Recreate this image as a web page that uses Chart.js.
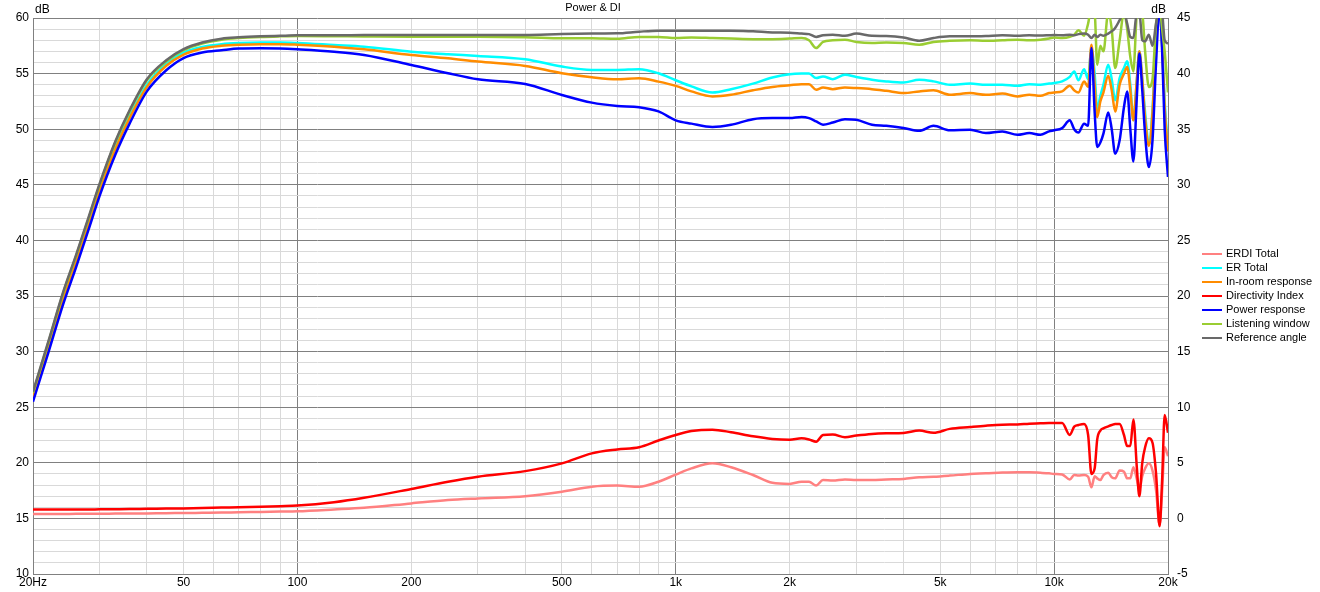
<!DOCTYPE html>
<html>
<head>
<meta charset="utf-8">
<title>Power & DI</title>
<script src="https://cdn.jsdelivr.net/npm/chart.js@4.4.1/dist/chart.umd.min.js"></script>
<style>
  html, body { margin: 0; padding: 0; background: #fff; }
  #wrap { width: 1320px; height: 592px; }
</style>
</head>
<body>
<div id="wrap"><canvas id="powerDi" width="1320" height="592"></canvas></div>
<script>
// Power & DI (REW style)

const chartTitle = "Power & DI";

// frequency points (Hz)
const freqs = [
  20, 22, 24, 26, 28, 30, 33, 36, 40, 45, 50, 56, 63, 70, 80, 90, 100, 125, 150, 200, 250, 300, 400, 500, 600, 700, 800, 900,
  1000, 1100, 1250, 1400, 1600, 1800, 2000, 2150, 2250, 2350, 2450, 2600, 2800, 3000, 3300, 3600, 4000, 4400, 4800, 5300, 6000, 6600, 7300, 8000, 8600, 9200, 9700, 10000,
  10500, 11000, 11300, 11600, 12000, 12300, 12550, 12800, 13000, 13250, 13500, 13900, 14200, 14500, 14900, 15300, 15600, 15900, 16200, 16550, 16800, 17100, 17400, 17800, 18200, 18600, 19000, 19300, 19600, 20000
];

// left axis (dB)
const referenceAngle = [
  26.4, 31.0, 35.3, 38.7, 42.0, 45.1, 48.9, 51.7, 54.5, 56.2, 57.2, 57.8, 58.14, 58.26, 58.35, 58.4, 58.44, 58.45, 58.46, 58.47, 58.47, 58.47, 58.48, 58.56, 58.6, 58.62, 58.77, 58.86,
  58.86, 58.86, 58.86, 58.85, 58.8, 58.7, 58.68, 58.6, 58.55, 58.3, 58.45, 58.5, 58.4, 58.6, 58.4, 58.38, 58.25, 57.95, 58.2, 58.35, 58.35, 58.38, 58.45, 58.4, 58.45, 58.42, 58.45, 58.47,
  58.45, 58.5, 58.45, 58.55, 58.6, 58.5, 58.2, 58.5, 58.3, 58.5, 58.4, 58.6, 58.8, 59.1, 59.8, 60.5, 59.5, 58.3, 58.2, 60.5, 60.5, 58.0, 57.9, 58.5, 57.5, 59.5, 61, 60.5, 58.0, 57.7
];
const listeningWindow = [
  26.3, 30.9, 35.2, 38.6, 41.9, 45.0, 48.8, 51.6, 54.4, 56.1, 57.1, 57.7, 58.05, 58.2, 58.3, 58.35, 58.38, 58.36, 58.34, 58.32, 58.32, 58.32, 58.28, 58.18, 58.17, 58.13, 58.3, 58.3,
  58.2, 58.25, 58.2, 58.15, 58.1, 58.1, 58.15, 58.2, 58.0, 57.3, 57.85, 58.0, 58.05, 57.85, 57.75, 57.8, 57.75, 57.6, 57.85, 57.95, 58.0, 57.95, 58.0, 58.05, 58.0, 58.05, 58.15, 58.25,
  58.2, 58.3, 58.5, 58.9, 58.4, 59.5, 61, 60.5, 55.8, 57.5, 57.0, 60.5, 59.0, 55.5, 58.0, 60.5, 59.0, 56.5, 55.2, 60.5, 61, 60.5, 57.0, 53.8, 54.5, 59.5, 61, 59.0, 57.0, 53.3
];
const powerResponse = [
  25.5, 30.0, 34.2, 37.6, 40.9, 44.0, 47.7, 50.5, 53.4, 55.3, 56.4, 56.9, 57.1, 57.25, 57.27, 57.25, 57.18, 56.97, 56.68, 55.78, 55.03, 54.49, 54.07, 53.08, 52.39, 52.09, 51.98, 51.6,
  50.8, 50.5, 50.2, 50.4, 50.9, 51.0, 51.0, 51.1, 51.0, 50.7, 50.4, 50.6, 50.9, 50.85, 50.4, 50.3, 50.1, 49.85, 50.3, 49.9, 49.95, 49.65, 49.8, 49.5, 49.65, 49.5, 49.8, 49.9,
  50.1, 50.8, 50.0, 49.7, 50.5, 50.3, 57.3, 51.5, 48.4, 48.8, 49.6, 51.5, 50.0, 47.8, 49.0, 52.0, 53.4, 50.0, 47.1, 53.0, 56.8, 53.5, 49.5, 46.6, 49.0, 56.0, 61, 57.0, 50.0, 45.7
];
const inRoomResponse = [
  25.9, 30.4, 34.7, 38.1, 41.4, 44.5, 48.2, 51.0, 53.8, 55.7, 56.7, 57.25, 57.5, 57.6, 57.65, 57.65, 57.6, 57.42, 57.18, 56.68, 56.38, 56.08, 55.69, 55.03, 54.67, 54.49, 54.58, 54.28,
  53.9, 53.4, 52.95, 53.1, 53.5, 53.8, 53.95, 54.05, 54.05, 53.55, 53.75, 53.6, 53.75, 53.7, 53.6, 53.45, 53.25, 53.4, 53.5, 53.1, 53.25, 53.1, 53.2, 52.95, 53.1, 53.0, 53.25, 53.3,
  53.4, 53.9, 53.5, 53.3, 54.3, 53.8, 57.6, 54.0, 51.1, 52.5, 53.3, 54.8, 53.5, 51.6, 54.0, 55.0, 55.6, 53.5, 50.8, 54.5, 57.0, 54.5, 51.0, 48.5, 51.5, 58.0, 61, 57.5, 52.0, 48.0
];
const erTotal = [
  26.0, 30.6, 34.9, 38.3, 41.6, 44.7, 48.4, 51.2, 54.0, 55.9, 56.9, 57.4, 57.65, 57.75, 57.8, 57.8, 57.75, 57.57, 57.42, 56.97, 56.74, 56.59, 56.29, 55.63, 55.33, 55.33, 55.39, 55.03,
  54.4, 53.85, 53.3, 53.6, 54.1, 54.65, 54.95, 55.0, 55.0, 54.6, 54.75, 54.5, 54.9, 54.7, 54.45, 54.3, 54.2, 54.45, 54.3, 54.0, 54.1, 54.0, 54.0, 53.9, 54.05, 54.0, 54.1, 54.15,
  54.3, 54.7, 55.2, 54.4, 55.4, 54.5, 57.3, 55.0, 51.8, 53.0, 54.0, 55.8, 54.5, 52.6, 54.6, 55.5, 56.1, 54.0, 50.8, 54.5, 57.0, 54.5, 51.5, 48.6, 51.8, 58.0, 61, 57.5, 52.5, 48.3
];

// right axis (dB, DI scale)
const directivityIndex = [
  0.8, 0.8, 0.8, 0.8, 0.8, 0.82, 0.83, 0.84, 0.86, 0.88, 0.9, 0.93, 0.97, 1.0, 1.05, 1.1, 1.15, 1.45, 1.85, 2.65, 3.3, 3.75, 4.25, 4.95, 5.85, 6.2, 6.4, 7.0,
  7.5, 7.85, 7.98, 7.75, 7.38, 7.15, 7.08, 7.2, 7.1, 6.9, 7.5, 7.55, 7.3, 7.45, 7.6, 7.65, 7.68, 7.9, 7.7, 8.05, 8.22, 8.34, 8.43, 8.45, 8.52, 8.55, 8.58, 8.58,
  8.58, 7.5, 8.25, 8.4, 8.5, 7.5, 4.0, 4.5, 7.1, 7.9, 8.1, 8.28, 8.4, 8.5, 8.5, 7.5, 6.5, 6.5, 8.9, 4.5, 2.0, 5.0, 6.4, 7.2, 6.8, 4.0, -0.7, 3.5, 9.3, 7.7
];
const erdiTotal = [
  0.4, 0.4, 0.4, 0.41, 0.41, 0.42, 0.43, 0.44, 0.45, 0.47, 0.48, 0.5, 0.52, 0.55, 0.58, 0.61, 0.64, 0.8, 0.95, 1.35, 1.65, 1.8, 2.0, 2.4, 2.85, 2.95, 2.85, 3.3,
  3.94, 4.5, 4.95, 4.6, 3.9, 3.2, 3.1, 3.3, 3.3, 2.95, 3.45, 3.4, 3.5, 3.45, 3.45, 3.5, 3.55, 3.7, 3.75, 3.85, 4.0, 4.05, 4.12, 4.15, 4.15, 4.1, 4.05, 4.0,
  3.95, 3.5, 3.9, 3.85, 3.9, 3.75, 2.8, 3.8, 3.6, 3.45, 3.9, 4.1, 3.7, 3.6, 4.3, 4.2, 3.6, 3.6, 4.6, 3.5, 2.6, 3.8, 4.5, 4.95, 4.3, 2.5, -0.6, 2.5, 6.4, 5.6
];

// axis ticks
const xGridTicks = [20, 30, 40, 50, 60, 70, 80, 90, 100, 200, 300, 400, 500, 600, 700, 800, 900,
  1000, 2000, 3000, 4000, 5000, 6000, 7000, 8000, 9000, 10000, 20000];
const xTickLabels = { 20: "20Hz", 50: "50", 100: "100", 200: "200", 500: "500",
  1000: "1k", 2000: "2k", 5000: "5k", 10000: "10k", 20000: "20k" };
const xMajor = [100, 1000, 10000];
const leftRange = [10, 60];
const rightRange = [-5, 45];

// legend order, top to bottom (later ones are drawn on top)
const series = [
  { label: "ERDI Total", data: erdiTotal, color: "#ff8080", axis: "y2" },
  { label: "ER Total", data: erTotal, color: "#00ffff", axis: "y" },
  { label: "In-room response", data: inRoomResponse, color: "#ff8c00", axis: "y" },
  { label: "Directivity Index", data: directivityIndex, color: "#ff0000", axis: "y2" },
  { label: "Power response", data: powerResponse, color: "#0000ff", axis: "y" },
  { label: "Listening window", data: listeningWindow, color: "#9acd32", axis: "y" },
  { label: "Reference angle", data: referenceAngle, color: "#696969", axis: "y" }
];

const FONT = '"Liberation Sans", Arial, sans-serif';
const gridLight = "#d9d9d9";
const gridDark = "#808080";

const datasets = series.map((s, i) => ({
  label: s.label,
  data: freqs.map((f, k) => ({ x: f, y: s.data[k] })),
  yAxisID: s.axis,
  borderColor: s.color,
  backgroundColor: s.color,
  borderWidth: 2.5,
  pointRadius: 0,
  fill: false,
  cubicInterpolationMode: "monotone",
  order: series.length - i
}));

// title, "dB" captions and legend drawn on the canvas
const overlayPlugin = {
  id: "overlay",
  afterDraw(chart) {
    const c = chart.ctx;
    const a = chart.chartArea;
    c.save();
    c.font = "11px " + FONT;
    c.fillStyle = "#000";
    c.textBaseline = "middle";

    c.textAlign = "center";
    c.fillText(chartTitle, 593, 8);
    c.font = "12px " + FONT;
    c.textAlign = "left";
    c.fillText("dB", a.left + 2, 10);
    c.textAlign = "right";
    c.fillText("dB", a.right - 2, 10);

    c.textAlign = "left";
    c.font = "11px " + FONT;
    series.forEach((s, i) => {
      const y = 254 + i * 14;
      c.strokeStyle = s.color;
      c.lineWidth = 2;
      c.beginPath();
      c.moveTo(1202, y);
      c.lineTo(1222, y);
      c.stroke();
      c.fillText(s.label, 1226, y);
    });
    c.restore();
  }
};

function makeTicks(from, to, step) {
  const out = [];
  for (let v = from; v <= to; v += step) out.push({ value: v });
  return out;
}

function xGridColor(ctx) {
  if (!ctx.tick || !xGridTicks.includes(ctx.tick.value)) return "rgba(0,0,0,0)";
  return xMajor.includes(ctx.tick.value) ? gridDark : gridLight;
}

new Chart(document.getElementById("powerDi"), {
  type: "line",
  data: { datasets },
  options: {
    responsive: false,
    animation: false,
    events: [],
    layout: { padding: { top: 18, left: 0, right: 0, bottom: 0 } },
    plugins: { legend: { display: false }, tooltip: { enabled: false }, title: { display: false } },
    scales: {
      x: {
        type: "logarithmic",
        min: 20,
        max: 20000,
        afterBuildTicks: s => { s.ticks = xGridTicks.map(v => ({ value: v })); },
        afterFit: s => { s.height = 18; },
        ticks: {
          autoSkip: false,
          maxRotation: 0,
          padding: 1,
          color: "#000",
          font: { family: FONT, size: 12 },
          callback: v => xTickLabels[v] || ""
        },
        grid: { drawTicks: false, color: xGridColor, lineWidth: 1 },
        border: { color: gridDark }
      },
      y: {
        position: "left",
        min: leftRange[0],
        max: leftRange[1],
        afterBuildTicks: s => { s.ticks = makeTicks(leftRange[0], leftRange[1], 1); },
        afterFit: s => { s.width = 33; },
        ticks: {
          autoSkip: false,
          padding: 4,
          color: "#000",
          font: { family: FONT, size: 12 },
          callback: v => (v % 5 === 0 ? String(v) : "")
        },
        grid: {
          drawTicks: false,
          color: ctx => (ctx.tick && ctx.tick.value % 5 === 0) ? gridDark : gridLight
        },
        border: { color: gridDark }
      },
      y2: {
        position: "right",
        min: rightRange[0],
        max: rightRange[1],
        afterBuildTicks: s => { s.ticks = makeTicks(rightRange[0], rightRange[1], 5); },
        afterFit: s => { s.width = 152; },
        ticks: {
          autoSkip: false,
          padding: 9,
          color: "#000",
          font: { family: FONT, size: 12 },
          callback: v => String(v)
        },
        grid: { drawTicks: false, drawOnChartArea: false },
        border: { color: gridDark }
      }
    }
  },
  plugins: [overlayPlugin]
});
</script>
</body>
</html>
